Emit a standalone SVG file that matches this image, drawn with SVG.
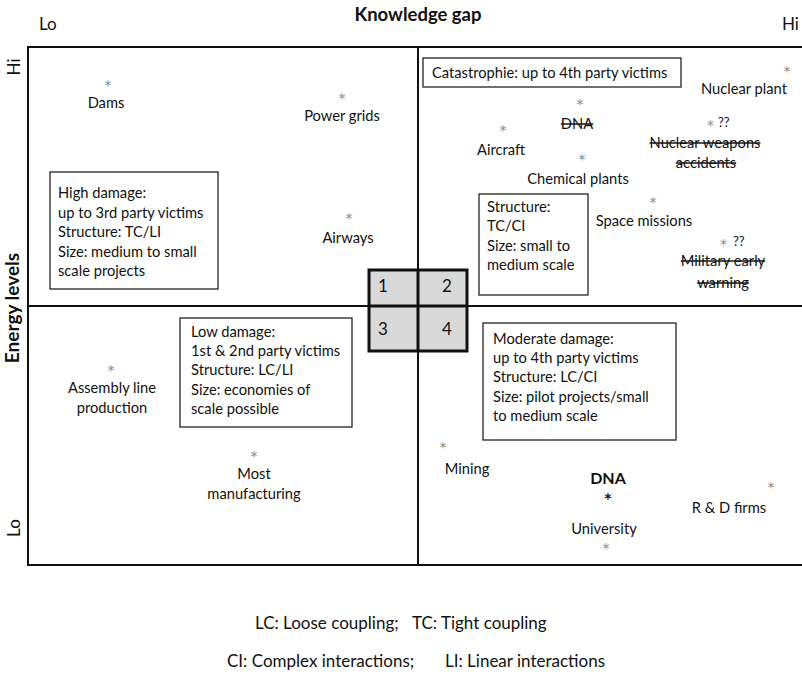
<svg xmlns="http://www.w3.org/2000/svg" width="802" height="674" viewBox="0 0 802 674">
<style>
text{font-family:Lato,"Liberation Sans",sans-serif;font-size:14.7px;fill:#111}
.b{font-weight:bold}
.m{text-anchor:middle}
.ax{font-size:17px}
.num{font-size:17px}
.lg{font-size:17px}
.ttl{font-size:18.5px;font-weight:bold}
.el{font-size:19px;font-weight:bold}
.dn{font-size:16px;font-weight:bold}
.s{fill:#888;font-size:14px;font-family:"DejaVu Sans",sans-serif}
.sd{fill:#111;font-size:14px;font-weight:bold;font-family:"DejaVu Sans",sans-serif}
.q{font-size:13px}
.x{text-decoration:line-through}
.box{fill:#fff;stroke:#222;stroke-width:1.3}
.ln{stroke:#111;stroke-width:2;fill:none}
</style>
<rect width="802" height="674" fill="#fff"/>
<g id="axes">
<text class="ax" x="39" y="30">Lo</text>
<text class="ttl m" x="418" y="21">Knowledge gap</text>
<text class="ax" x="782" y="30">Hi</text>
<text class="ax m" transform="translate(20,67) rotate(-90)">Hi</text>
<text class="ax m" transform="translate(20,528) rotate(-90)">Lo</text>
<text class="el m" transform="translate(19,308) rotate(-90)">Energy levels</text>
</g>
<g id="frame">
<rect class="ln" x="28" y="47" width="790" height="518"/>
<line class="ln" x1="418" y1="47" x2="418" y2="565"/>
<line class="ln" x1="28" y1="306" x2="802" y2="306"/>
</g>
<g id="quadrants">
<rect x="369" y="270" width="98" height="81" fill="#d9d9d9" stroke="#111" stroke-width="3"/>
<line x1="418" y1="270" x2="418" y2="351" stroke="#111" stroke-width="3"/>
<line x1="369" y1="306" x2="467" y2="306" stroke="#111" stroke-width="3"/>
<text class="num" x="378" y="292">1</text>
<text class="num" x="442" y="292">2</text>
<text class="num" x="378" y="335">3</text>
<text class="num" x="442" y="335">4</text>
</g>
<g id="box-catastrophe">
<rect class="box" x="423" y="58" width="258" height="29"/>
<text x="432" y="78">Catastrophie: up to 4th party victims</text>
</g>
<g id="box-high">
<rect class="box" x="50" y="172" width="168" height="117"/>
<text x="58" y="198">High damage:</text>
<text x="58" y="218">up to 3rd party victims</text>
<text x="58" y="237">Structure: TC/LI</text>
<text x="58" y="257">Size: medium to small</text>
<text x="58" y="276">scale projects</text>
</g>
<g id="box-q2">
<rect class="box" x="479" y="194" width="109" height="101"/>
<text x="487" y="212">Structure:</text>
<text x="487" y="231">TC/CI</text>
<text x="487" y="251">Size: small to</text>
<text x="487" y="270">medium scale</text>
</g>
<g id="box-low">
<rect class="box" x="180" y="318" width="172" height="109"/>
<text x="191" y="337">Low damage:</text>
<text x="191" y="356">1st &amp; 2nd party victims</text>
<text x="191" y="375">Structure: LC/LI</text>
<text x="191" y="395">Size: economies of</text>
<text x="191" y="414">scale possible</text>
</g>
<g id="box-moderate">
<rect class="box" x="483" y="323" width="193" height="117"/>
<text x="493" y="344">Moderate damage:</text>
<text x="493" y="363">up to 4th party victims</text>
<text x="493" y="382">Structure: LC/CI</text>
<text x="493" y="402">Size: pilot projects/small</text>
<text x="493" y="421">to medium scale</text>
</g>
<g id="dams"><text class="s m" x="108" y="90">*</text><text class="m" x="106" y="108">Dams</text></g>
<g id="power-grids"><text class="s m" x="342" y="103">*</text><text class="m" x="342" y="121">Power grids</text></g>
<g id="airways"><text class="s m" x="349" y="223">*</text><text class="m" x="348" y="243">Airways</text></g>
<g id="nuclear-plant"><text class="s m" x="787" y="76">*</text><text class="m" x="744" y="94">Nuclear plant</text></g>
<g id="dna-struck"><text class="s m" x="580" y="109">*</text><text class="m x" x="577" y="129">DNA</text></g>
<g id="aircraft"><text class="s m" x="503" y="135">*</text><text class="m" x="501" y="155">Aircraft</text></g>
<g id="chemical-plants"><text class="s m" x="582" y="164">*</text><text class="m" x="578" y="184">Chemical plants</text></g>
<g id="nuclear-weapons"><text class="s" x="707" y="130">*</text><text class="q" x="718" y="127">??</text><text class="m x" x="705" y="148">Nuclear weapons</text><text class="m x" x="706" y="168">accidents</text></g>
<g id="space-missions"><text class="s m" x="653" y="207">*</text><text class="m" x="644" y="226">Space missions</text></g>
<g id="military"><text class="s" x="720" y="249">*</text><text class="q" x="733" y="246">??</text><text class="m x" x="723" y="266">Military early</text><text class="m x" x="723" y="288">warning</text></g>
<g id="assembly"><text class="s m" x="111" y="375">*</text><text class="m" x="112" y="393">Assembly line</text><text class="m" x="112" y="413">production</text></g>
<g id="manufacturing"><text class="s m" x="254" y="461">*</text><text class="m" x="254" y="479">Most</text><text class="m" x="254" y="499">manufacturing</text></g>
<g id="mining"><text class="s m" x="443" y="452">*</text><text class="m" x="467" y="474">Mining</text></g>
<g id="dna"><text class="dn m" x="608" y="484">DNA</text><text class="sd m" x="608" y="503">*</text></g>
<g id="university"><text class="m" x="604" y="534">University</text><text class="s m" x="606" y="553">*</text></g>
<g id="rd"><text class="s m" x="771" y="492">*</text><text class="m" x="729" y="513">R &amp; D firms</text></g>
<g id="legend">
<text class="lg" x="255" y="629">LC: Loose coupling;</text>
<text class="lg" x="412" y="629">TC: Tight coupling</text>
<text class="lg" x="227" y="667">CI: Complex interactions;</text>
<text class="lg" x="445" y="667">LI: Linear interactions</text>
</g>
</svg>
